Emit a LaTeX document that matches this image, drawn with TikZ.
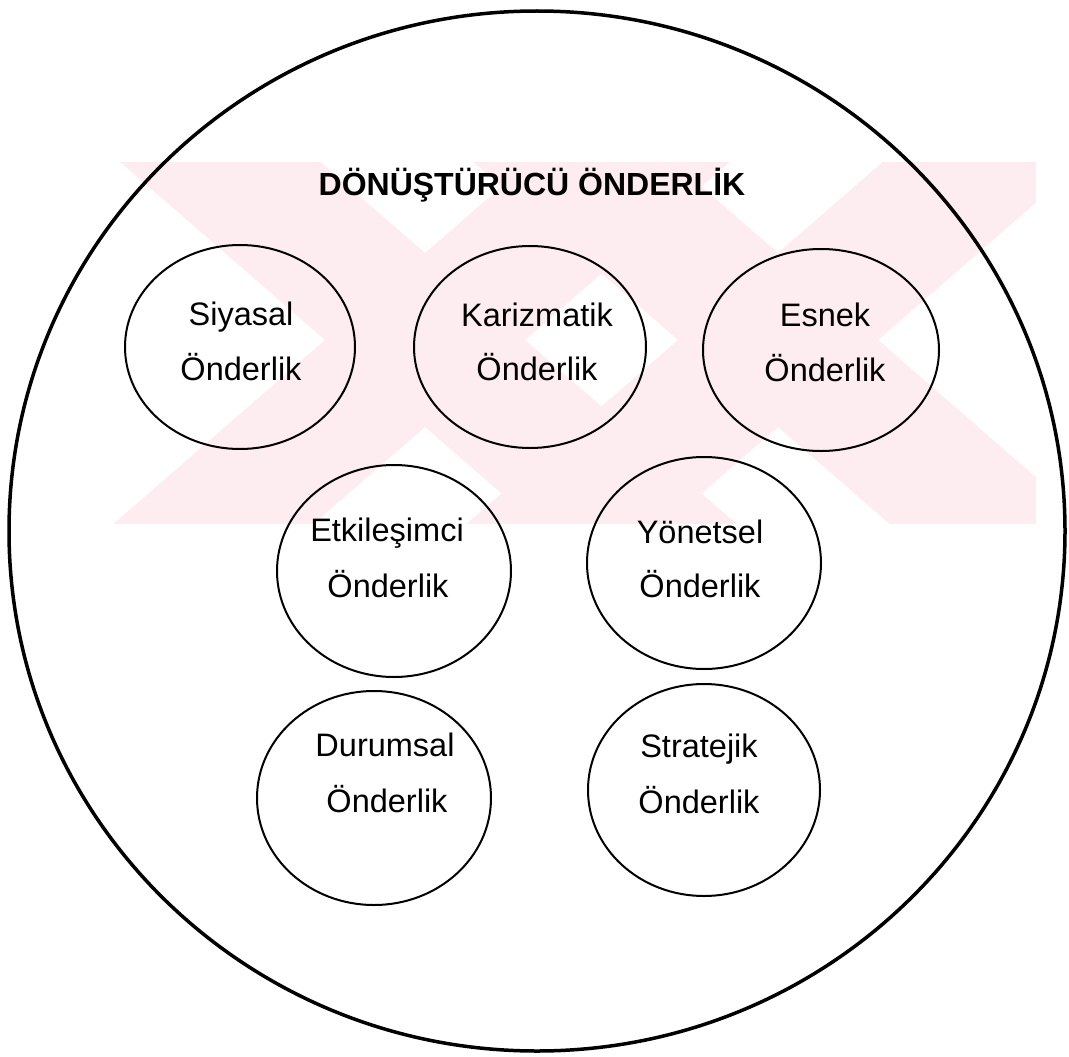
\documentclass[tikz,border=0pt]{standalone}
\usepackage{fontspec}
\setmainfont{Liberation Sans}
\usetikzlibrary{shapes.geometric}
\definecolor{wmpink}{RGB}{253,236,240}
\begin{document}
\begin{tikzpicture}[x=1pt,y=-1pt,
  oval/.style={draw=black, line width=2pt, ellipse, inner sep=0pt},
  lbl/.style={anchor=base, inner sep=0pt, font=\fontsize{32.5}{38}\selectfont},
  headline/.style={anchor=base, inner sep=0pt, font=\fontsize{32}{38}\selectfont\bfseries}]
\useasboundingbox (0,0) rectangle (1069,1057);

% faint background emblem: two crossed stripe pairs
\begin{scope}
  \clip (99,162) rectangle (1036,523);
  \fill[wmpink] (106.5,150) -- (306.5,150) -- (755,540) -- (555,540) -- cycle;
  \fill[wmpink] (543.5,150) -- (743.5,150) -- (295,540) -- (95,540) -- cycle;
  \fill[wmpink] (459.5,150) -- (659.5,150) -- (1108,540) -- (908,540) -- cycle;
  \fill[wmpink] (896.5,150) -- (1096.5,150) -- (648,540) -- (448,540) -- cycle;
\end{scope}

% enclosing circle
\node[draw=black, line width=3.5pt, ellipse, inner sep=0pt,
      minimum width=1056pt, minimum height=1040pt] (outer) at (537,531) {};

\node[headline] (title) at (532,195) {DÖNÜŞTÜRÜCÜ ÖNDERLİK};

% component ellipses
\node[oval, minimum width=230pt, minimum height=204pt] (siy) at (240,347) {};
\node[oval, minimum width=232pt, minimum height=202pt] (kar) at (530,347) {};
\node[oval, minimum width=236pt, minimum height=202pt] (esn) at (821,350) {};
\node[oval, minimum width=234pt, minimum height=212pt] (etk) at (394,571) {};
\node[oval, minimum width=234pt, minimum height=212pt] (yon) at (704,563) {};
\node[oval, minimum width=234pt, minimum height=214pt] (dur) at (374,798) {};
\node[oval, minimum width=232pt, minimum height=212pt] (str) at (704,790) {};

% labels
\node[lbl] (siy-1) at (241,325) {Siyasal};
\node[lbl] (siy-2) at (241,380) {Önderlik};
\node[lbl] (kar-1) at (537,326) {Karizmatik};
\node[lbl] (kar-2) at (537,380) {Önderlik};
\node[lbl] (esn-1) at (825,326) {Esnek};
\node[lbl] (esn-2) at (825,381) {Önderlik};
\node[lbl] (etk-1) at (387,541) {Etkileşimci};
\node[lbl] (etk-2) at (388,597) {Önderlik};
\node[lbl] (yon-1) at (700,543) {Yönetsel};
\node[lbl] (yon-2) at (700,597) {Önderlik};
\node[lbl] (dur-1) at (385,756) {Durumsal};
\node[lbl] (dur-2) at (387,812) {Önderlik};
\node[lbl] (str-1) at (699,757) {Stratejik};
\node[lbl] (str-2) at (699,813) {Önderlik};
\end{tikzpicture}
\end{document}
